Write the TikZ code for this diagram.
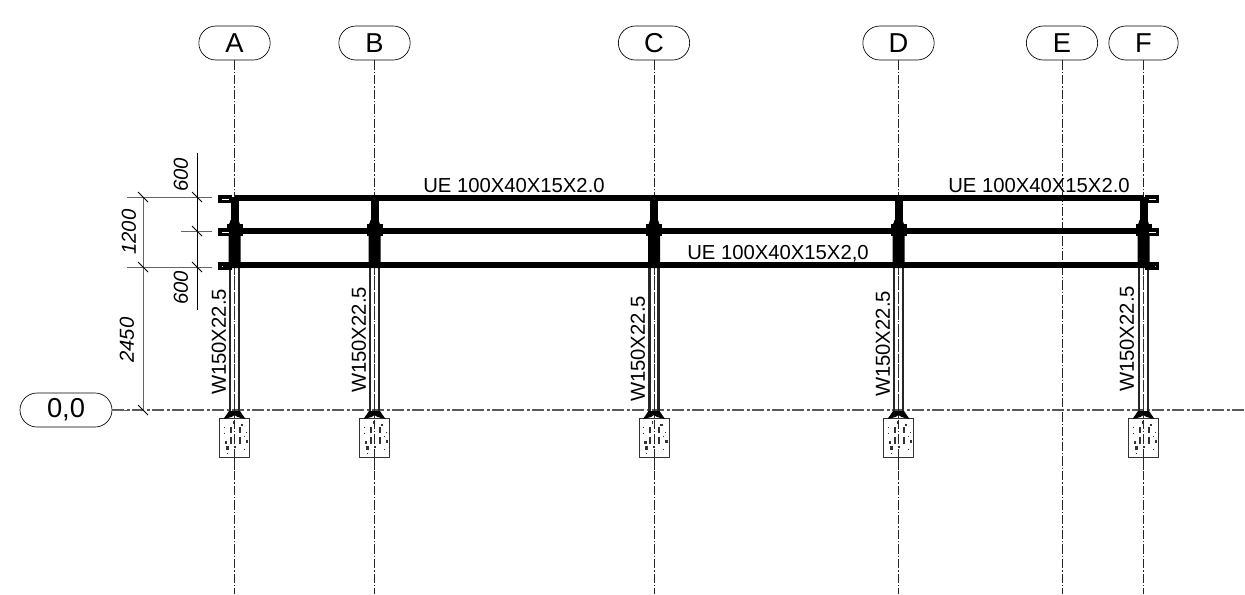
\documentclass[tikz,border=0pt]{standalone}
\usepackage{fontspec}
\setmainfont{Liberation Sans}
\usetikzlibrary{shapes.misc}
\tikzset{
  bubble/.style={draw=black,line width=0.5pt,rounded rectangle,minimum width=53.5pt,minimum height=25.5pt,inner sep=0pt,font=\fontsize{20.5}{20.5}\selectfont},
  gridline/.style={line width=0.45pt,black!85,dash pattern=on 7pt off 1.5pt on 1pt off 1.5pt},
  baseline0/.style={line width=0.8pt,black!65,dash pattern=on 9pt off 2pt on 2pt off 2pt},
  railbar/.style={line width=3.8pt,black},
  postbar/.style={line width=1.9pt,black!85},
  dimline/.style={line width=0.7pt,black!60},
  dimdark/.style={line width=0.6pt,black},
  tick/.style={line width=0.6pt,black},
  lab/.style={font=\fontsize{15.2}{15.2}\selectfont,inner sep=0pt},
  dimlab/.style={font=\itshape\fontsize{15.2}{15.2}\selectfont,inner sep=0pt},
  footing/.style={draw=black!80,line width=0.7pt,fill=white},
  speck/.style={fill=black!80,draw=none}
}
\begin{document}
\begin{tikzpicture}[x=0.75pt,y=-0.75pt]
\useasboundingbox (0,0) rectangle (1245,594);
\fill[white] (0,0) rectangle (1245,594);
% grid bubbles
\node[bubble] (A) at (234.5,43) {A};
\node[bubble] (B) at (374.5,43) {B};
\node[bubble] (C) at (654,43) {C};
\node[bubble] (D) at (898.5,43) {D};
\node[bubble] (E) at (1062,43) {E};
\node[bubble,minimum width=52pt] (F) at (1143.5,43) {F};
\node[bubble,minimum width=69pt] (Z) at (66,410) {0,0};
\coordinate (zend) at (1245,410);
\foreach \n in {A,B,C,D,E,F}{
  \coordinate (\n end) at (\n |- 0,594);
  \draw[gridline] (\n.south) -- (\n end);
}
\draw[baseline0] (Z.east) -- (zend);
% footings and posts
\foreach \n in {A,B,C,D,F}{
  \begin{scope}[shift={(\n |- 0,0)}]
    \draw[footing] (-15,418) rectangle (15,457);
    \draw[gridline] (0,405) -- (0,470);
    \foreach \dx/\dy/\w/\h in {-5/427/2/6,4/427/2/6,-5/437/2/7,4/437/2/7,-10/441/2.5/3,-9/446/3/4,11/440/2.5/3,6/424/2.5/2,-11/427/1.2/1.2,11/432/1.2/1.2,-1/446/2/2,-8/453/1.2/1.2,9/449/1.2/1.2,-2/421/1.2/3,9/436/1.2/1.2,-11/433/1.2/1.2}{
      \fill[speck] (\dx,\dy) rectangle ++(\w,\h);
    }
    % column below lowest rail
    \draw[postbar] (-4.5,265) -- (-4.5,414);
    \draw[postbar] (4.5,265) -- (4.5,414);
    \draw[line width=0.4pt,dashed,black!80] (0,268) -- (0,412);
    \fill (-11,419) -- (-5.5,411) -- (5.5,411) -- (11,419) -- (3,417) -- (0,415) -- (-3,417) -- cycle;
    % upper part
    \fill (-4,197) rectangle (4,222);
    \fill (-6,226) -- (-4,220) -- (4,220) -- (6,226) -- (6,268) -- (-6,268) -- cycle;
    \fill (-8,224) rectangle (8,236);
  \end{scope}
}
% rails
\coordinate (r1l) at (218,198);
\coordinate (r1r) at (1159,198);
\coordinate (r2l) at (218,231);
\coordinate (r2r) at (1159,231);
\coordinate (r3l) at (218,265);
\coordinate (r3r) at (1159,265);
\foreach \n in {1,2,3}{
  \draw[railbar] (A |- r\n l) -- (F |- r\n r);
  \fill (r\n l) ++(0,-3) rectangle ++(14,8);
  \fill (r\n r) ++(0,-3) rectangle ++(-14,8);
  \fill[white] (r\n l) ++(4,0.8) rectangle ++(7,1);
  \fill[white] (r\n r) ++(-3,0.8) rectangle ++(-7,1);
}
\foreach \n in {A,B,C,D,F}{
  \fill (\n |- r3l) ++(-12,1) .. controls ++(5,0) and ++(6,-2) .. ++(12,-2) -- ++(0,3) -- ++(-10,1) -- cycle;
  \fill (\n |- r3l) ++(12,1) .. controls ++(-5,0) and ++(-6,-2) .. ++(-12,-2) -- ++(0,3) -- ++(10,1) -- cycle;
}
% dimensions
\coordinate (d1) at (143,197);
\coordinate (d2) at (143,267);
\coordinate (d3) at (143,410);
\coordinate (v1) at (197,197);
\coordinate (v2) at (197,231);
\coordinate (v3) at (197,267);
\coordinate (vt) at (197,153);
\coordinate (vb) at (197,310);
\draw[dimdark] (vt) -- (vb);
\draw[dimline] (d1) -- (d3);
\draw[dimline] (127,197) -- (212,197);
\draw[dimline] (181,231) -- (212,231);
\draw[dimline] (127,267) -- (212,267);
\draw[dimline] (127,410) -- (Z.east);
\foreach \c in {d1,d2,d3,v1,v2,v3}{
  \draw[tick] (\c) ++(-5,-5) -- ++(10,10);
}
% texts
\node[dimlab,rotate=90] (t1) at (181,175) {600};
\node[dimlab,rotate=90] (t2) at (129,232) {1200};
\node[dimlab,rotate=90] (t3) at (181,288) {600};
\node[dimlab,rotate=90] (t4) at (127,340) {2450};
\node[lab] (u1) at (514,185.5) {UE 100X40X15X2.0};
\node[lab] (u2) at (1039,185.5) {UE 100X40X15X2.0};
\node[lab] (u3) at (778,254) {UE 100X40X15X2,0};
\node[lab,rotate=90] (w1) at (219,342) {W150X22.5};
\node[lab,rotate=90] (w2) at (359,340) {W150X22.5};
\node[lab,rotate=90] (w3) at (638,349) {W150X22.5};
\node[lab,rotate=90] (w4) at (883,344) {W150X22.5};
\node[lab,rotate=90] (w5) at (1127,339) {W150X22.5};
\end{tikzpicture}
\end{document}
